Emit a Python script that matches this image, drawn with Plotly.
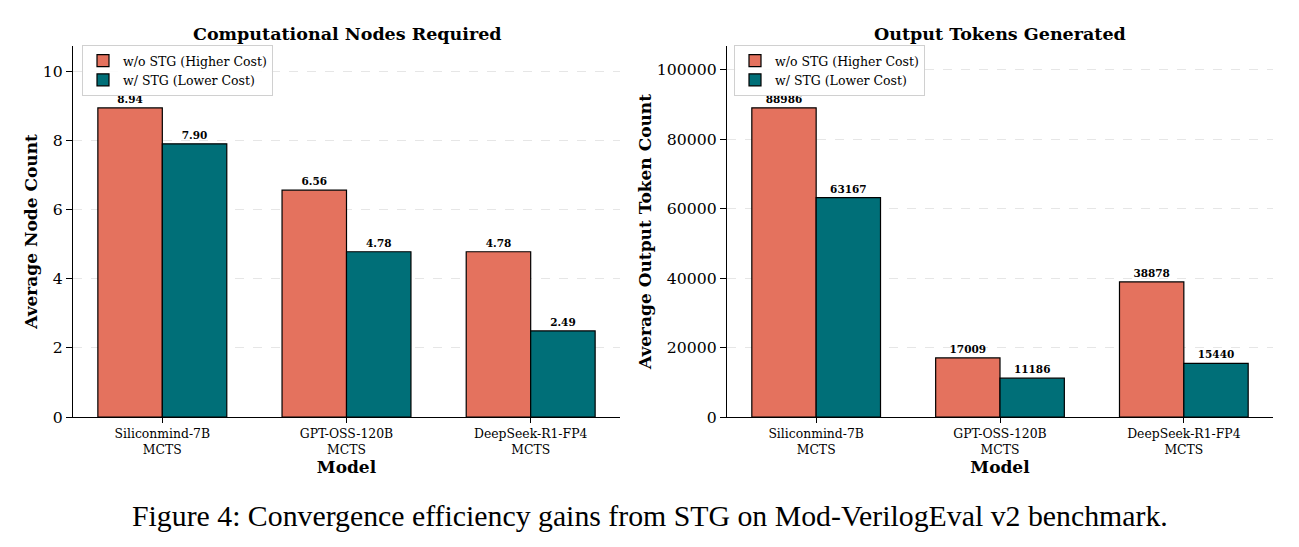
import plotly.graph_objects as go

models = ["Siliconmind-7B<br>MCTS", "GPT-OSS-120B<br>MCTS", "DeepSeek-R1-FP4<br>MCTS"]
series_names = ["w/o STG (Higher Cost)", "w/ STG (Lower Cost)"]
nodes_without = [8.94, 6.56, 4.78]
nodes_with = [7.90, 4.78, 2.49]
tokens_without = [88986, 17009, 38878]
tokens_with = [63167, 11186, 15440]

colors = ["#E4725E", "#006F78"]
FONT = "DejaVu Serif"

fig = go.Figure()

def add_bars(vals, name, color, xa, ya, leg, fmt):
    fig.add_trace(go.Bar(
        x=list(range(len(models))), y=vals, name=name, xaxis=xa, yaxis=ya,
        legend=leg, offsetgroup=name, marker=dict(color=color, line=dict(color="black", width=1.2)),
        texttemplate=fmt, textposition="outside", cliponaxis=False,
        textfont=dict(family=FONT, size=10.5, color="black", weight="bold"),
    ))

add_bars(nodes_without, series_names[0], colors[0], "x", "y", "legend", "%{y:.2f}")
add_bars(nodes_with, series_names[1], colors[1], "x", "y", "legend", "%{y:.2f}")
add_bars(tokens_without, series_names[0], colors[0], "x2", "y2", "legend2", "%{y:.0f}")
add_bars(tokens_with, series_names[1], colors[1], "x2", "y2", "legend2", "%{y:.0f}")

W, H = 1299, 547
yd = [1 - 417 / H, 1 - 46 / H]

xcommon = dict(
    tickmode="array", tickvals=list(range(len(models))), ticktext=models,
    range=[-0.485, 2.485], showline=True, linecolor="black", linewidth=1.2,
    ticks="outside", ticklen=5, tickcolor="black", showgrid=False, zeroline=False,
    automargin=False,
    tickfont=dict(family=FONT, size=12.4, color="black"),
    title=dict(text="<b>Model</b>", font=dict(family=FONT, size=17, color="black"), standoff=0),
)
ycommon = dict(
    showline=True, linecolor="black", linewidth=1.2, ticks="outside", ticklen=6,
    tickcolor="black", showgrid=True, gridcolor="#e6e6e6", griddash="dash", gridwidth=0.8,
    zeroline=False, automargin=False, tickfont=dict(family=FONT, size=15.7, color="black"),
)

legend_common = dict(xanchor="left", yanchor="top", bgcolor="rgba(255,255,255,0.85)",
                     bordercolor="#d0d0d0", borderwidth=1,
                     font=dict(family=FONT, size=12.5, color="black"),
                     tracegroupgap=0, itemwidth=30)

fig.update_layout(
    width=W, height=H, margin=dict(l=0, r=0, t=0, b=0),
    paper_bgcolor="white", plot_bgcolor="white",
    barmode="group", bargap=0.3, bargroupgap=0,
    font=dict(family=FONT, color="black"),
    xaxis=dict(domain=[73 / W, 620 / W], anchor="y", **xcommon),
    xaxis2=dict(domain=[727 / W, 1273 / W], anchor="y2", **xcommon),
    yaxis=dict(domain=yd, anchor="x", range=[0, 10.73], dtick=2,
               title=dict(text="<b>Average Node Count</b>", font=dict(family=FONT, size=17, color="black"), standoff=0),
               **ycommon),
    yaxis2=dict(domain=yd, anchor="x2", range=[0, 106783], dtick=20000, tickformat="d",
                title=dict(text="<b>Average Output Token Count</b>", font=dict(family=FONT, size=17, color="black"), standoff=0),
                **ycommon),
    legend=dict(x=82 / W, y=1 - 45 / H, **legend_common),
    legend2=dict(x=734 / W, y=1 - 45 / H, **legend_common),
    annotations=[
        dict(text="<b>Computational Nodes Required</b>", x=347 / W, y=1 - 34 / H, xref="paper", yref="paper",
             xanchor="center", yanchor="middle",
             showarrow=False, font=dict(family=FONT, size=17.5, color="black")),
        dict(text="<b>Output Tokens Generated</b>", x=1000 / W, y=1 - 34 / H, xref="paper", yref="paper",
             xanchor="center", yanchor="middle",
             showarrow=False, font=dict(family=FONT, size=17.5, color="black")),
        dict(text="Figure 4: Convergence efficiency gains from STG on Mod-VerilogEval v2 benchmark.",
             x=650 / W, y=1 - 515 / H, xref="paper", yref="paper", showarrow=False,
             xanchor="center", yanchor="middle",
             font=dict(family="Liberation Serif", size=29.8, color="black")),
    ],
)

fig.write_html("out.html")
